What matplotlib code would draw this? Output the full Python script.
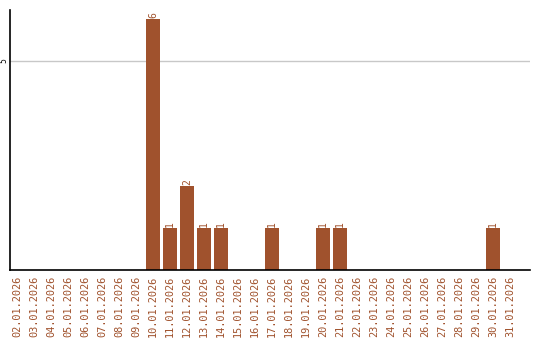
import matplotlib
matplotlib.use('Agg')
import matplotlib.pyplot as plt
import numpy as np

dates = ['%02d.01.2026' % d for d in range(2, 32)]
counts = [0, 0, 0, 0, 0, 0, 0, 0, 6, 1, 2, 1, 1, 0, 0, 1, 0, 0, 1, 1,
          0, 0, 0, 0, 0, 0, 0, 0, 1, 0]

color = '#A0522D'

fig = plt.figure(figsize=(5.4, 3.4), dpi=100)
ax = fig.add_axes([10/540, 70/340, 520/540, 260/340])

x = np.arange(len(dates))
bars = ax.bar(x, counts, width=0.82, color=color, zorder=2)
for xi, c in zip(x, counts):
    if c > 0:
        ax.text(xi, c + 0.04, str(c), rotation=90, ha='center', va='bottom',
                color=color, fontsize=7, family='DejaVu Sans Mono')

ax.set_xlim(-0.41, 30.18)
ax.set_ylim(0, 6.22)
ax.set_xticks(x)
ax.set_xticklabels(dates, rotation=90, color=color, fontsize=7.4,
                   family='DejaVu Sans Mono')
ax.set_yticks([5])
ax.set_yticklabels(['5'], rotation=90, va='center', fontsize=5.5)
ax.tick_params(axis='x', length=0, pad=4)
ax.tick_params(axis='y', length=0, pad=1)
ax.grid(axis='y', color='#c8c8c8', linewidth=1, zorder=0)
ax.spines['top'].set_visible(False)
ax.spines['right'].set_visible(False)
ax.spines['left'].set_linewidth(1.2)
ax.spines['bottom'].set_linewidth(1.2)

fig.savefig('out.png', dpi=100)
